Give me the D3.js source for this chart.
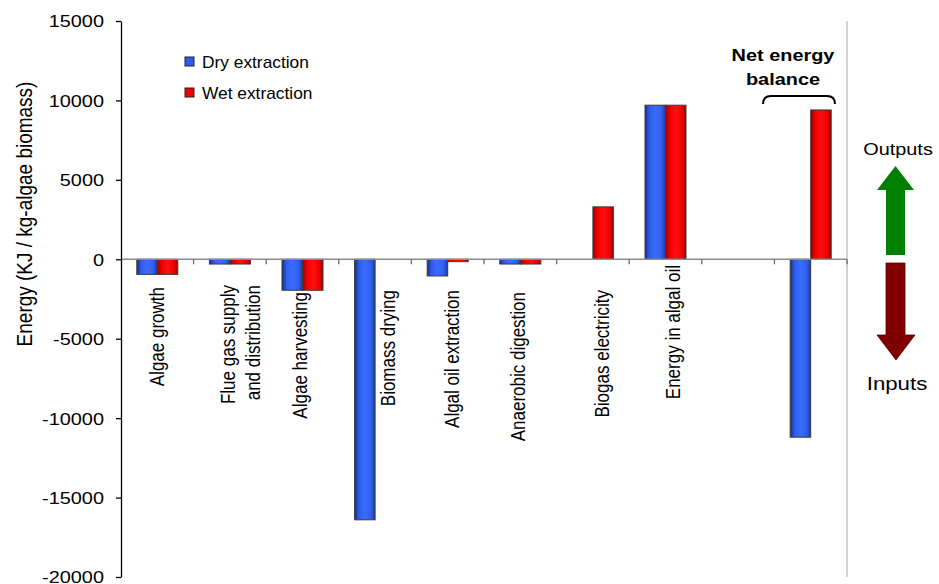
<!DOCTYPE html>
<html><head><meta charset="utf-8">
<script src="https://cdn.jsdelivr.net/npm/d3@7"></script>
<style>html,body{margin:0;padding:0;background:#fff;}svg{display:block;}</style>
</head><body>
<svg id="chart" width="939" height="584"></svg>
<script>
// ---- data ----
const categories = ["Algae growth", "Flue gas supply and distribution", "Algae harvesting", "Biomass drying",
  "Algal oil extraction", "Anaerobic digestion", "Biogas electricity", "Energy in algal oil", "", "Net energy balance"];
const labelLines = [["Algae growth"], ["Flue gas supply", "and distribution"], ["Algae harvesting"], ["Biomass drying"],
  ["Algal oil extraction"], ["Anaerobic digestion"], ["Biogas electricity"], ["Energy in algal oil"], [], []];
const dryExtraction = [-950, -300, -1950, -16400, -1050, -300, 0, 9700, null, -11200];
const wetExtraction = [-950, -300, -1950, 0, -150, -300, 3300, 9700, null, 9400];
const seriesNames = ["Dry extraction", "Wet extraction"];
const yTicks = [15000, 10000, 5000, 0, -5000, -10000, -15000, -20000];

// ---- layout ----
const SX = 1.17; // horizontal text stretch
const FONT = "'Liberation Sans', Arial, sans-serif";
const plotLeft = 121, plotRight = 847, plotTop = 21, plotBottom = 577;
const svg = d3.select("#chart");

const x = d3.scaleBand().domain(d3.range(categories.length)).range([plotLeft, plotRight]).padding(0);
const y = d3.scaleLinear().domain([-20000, 15000]).range([plotBottom, plotTop]);

// gradients
const defs = svg.append("defs");
function grad(id, stops) {
  const g = defs.append("linearGradient").attr("id", id).attr("x1", "0%").attr("x2", "100%").attr("y1", "0%").attr("y2", "0%");
  stops.forEach(s => g.append("stop").attr("offset", s[0]).attr("stop-color", s[1]));
}
grad("gBlue", [["0%", "#16307f"], ["22%", "#2f5cf0"], ["50%", "#3a6cff"], ["80%", "#2f5ff2"], ["100%", "#1c3a9a"]]);
grad("gRed", [["0%", "#9a0000"], ["22%", "#f00000"], ["50%", "#ff1010"], ["80%", "#f00000"], ["100%", "#9a0000"]]);

function addText(px, py, str, opts = {}) {
  const sx = opts.sx || SX;
  const g = svg.append("g").attr("transform", `translate(${px},${py}) scale(${sx},1)` + (opts.rotate ? " rotate(-90)" : ""));
  const t = g.append("text").text(str)
    .attr("font-family", FONT).attr("font-size", opts.size || 17)
    .attr("font-weight", opts.bold ? "bold" : "normal")
    .attr("text-anchor", opts.anchor || "start").attr("fill", "#000");
  if (opts.dy) t.attr("dy", opts.dy);
  return t;
}

// right border line
svg.append("line").attr("x1", plotRight).attr("x2", plotRight).attr("y1", plotTop).attr("y2", plotBottom)
  .attr("stroke", "#a6a6a6").attr("stroke-width", 1);

// bars
const bw = 20.5;
const series = [dryExtraction, wetExtraction];
const fills = ["url(#gBlue)", "url(#gRed)"];
series.forEach((vals, si) => {
  svg.append("g").selectAll("rect")
    .data(vals.map((v, i) => ({ v, i })).filter(d => d.v !== null && d.v !== 0))
    .join("rect")
    .attr("x", d => x(d.i) + x.bandwidth() / 2 - bw + si * bw)
    .attr("width", bw)
    .attr("y", d => Math.min(y(d.v), y(0)))
    .attr("height", d => Math.abs(y(d.v) - y(0)))
    .attr("fill", fills[si])
    .attr("stroke", "#3a3a3a").attr("stroke-width", 1);
});

// zero line with category ticks
const zero = y(0);
svg.append("line").attr("x1", plotLeft).attr("x2", plotRight).attr("y1", zero).attr("y2", zero)
  .attr("stroke", "#8c8c8c").attr("stroke-width", 1.5);
svg.append("g").selectAll("line").data(d3.range(1, categories.length + 1)).join("line")
  .attr("x1", i => plotLeft + i * x.step()).attr("x2", i => plotLeft + i * x.step())
  .attr("y1", zero).attr("y2", zero + 5).attr("stroke", "#6a6a6a").attr("stroke-width", 1.3);

// y axis
const yAxis = svg.append("g").attr("transform", `translate(${plotLeft},0)`)
  .call(d3.axisLeft(y).tickValues(yTicks).tickSize(5).tickSizeOuter(0).tickFormat(d => String(d)));
yAxis.select(".domain").attr("stroke", "#000").attr("stroke-width", 1.3);
yAxis.selectAll(".tick line").attr("stroke", "#000").attr("stroke-width", 1.3);
yAxis.selectAll(".tick text")
  .attr("font-family", FONT).attr("font-size", 17).attr("fill", "#000")
  .attr("x", -17 / SX).attr("dy", "0.35em")
  .attr("transform", `scale(${SX},1)`);

// y axis title
addText(24, 214, "Energy (KJ / kg-algae biomass)", { rotate: true, anchor: "middle", size: 19, dy: "0.35em" });

// category labels (rotated, manually offset like the original)
const labelOffset = [0, 10.5, -2.5, 13, 4.5, -2, 9, 7.5, 0, 0];
const labelTop = [287, 285, 292, 290, 290, 292, 290, 265, 0, 0];
labelLines.forEach((lines, i) => {
  const n = lines.length;
  lines.forEach((ln, k) => {
    const cx = x(i) + x.bandwidth() / 2 + labelOffset[i] + (k - (n - 1) / 2) * 25;
    addText(cx, labelTop[i], ln, { rotate: true, anchor: "end", size: 17, dy: "0.35em" });
  });
});

// legend
const legendColors = ["#2f5cf0", "#f00000"];
seriesNames.forEach((name, i) => {
  const ly = 57 + i * 31;
  svg.append("rect").attr("x", 185).attr("y", ly).attr("width", 9).attr("height", 9)
    .attr("fill", legendColors[i]).attr("stroke", "#222").attr("stroke-width", 1);
  addText(202, ly + 11, name, { size: 17, sx: 1.02 });
});

// Net energy balance annotation
addText(783, 61, "Net energy", { bold: true, anchor: "middle", size: 17 });
addText(783, 85, "balance", { bold: true, anchor: "middle", size: 17 });
svg.append("path").attr("d", "M763,104 Q763,96 771,96 L827,96 Q835,96 835,104")
  .attr("fill", "none").attr("stroke", "#000").attr("stroke-width", 2);

// Outputs / Inputs arrows
svg.append("path").attr("d", "M895.5,166 L914,190 L905,190 L905,255 L886,255 L886,190 L877,190 Z")
  .attr("fill", "#008000");
svg.append("path").attr("d", "M886,263 L905,263 L905,335 L915,335 L896,360 L877,335 L886,335 Z")
  .attr("fill", "#800000").attr("stroke", "#5a0000").attr("stroke-width", 0.8);
addText(898, 155, "Outputs", { anchor: "middle", size: 17 });
addText(897, 390, "Inputs", { anchor: "middle", size: 19 });
</script>
</body></html>
